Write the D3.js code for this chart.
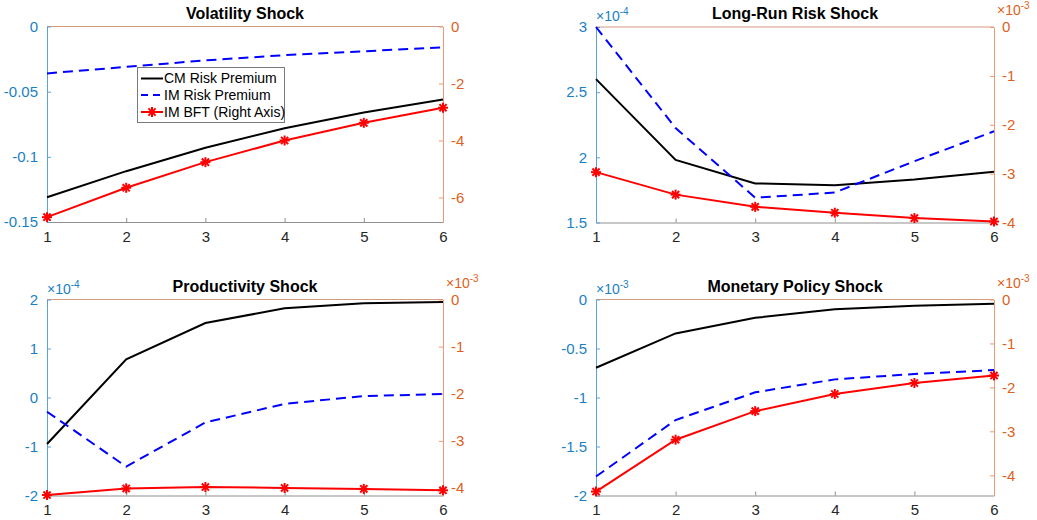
<!DOCTYPE html>
<html>
<head>
<meta charset="utf-8">
<script src="https://cdn.jsdelivr.net/npm/d3@7"></script>
<style>
  body { margin: 0; background: #fff; }
  svg { display: block; font-family: "Liberation Sans", Arial, sans-serif; }
</style>
</head>
<body>
<script>
// horizons on the x axis
const horizon = [1, 2, 3, 4, 5, 6];
const titles = ["Volatility Shock", "Long-Run Risk Shock", "Productivity Shock", "Monetary Policy Shock"];
const legendLabels = ["CM Risk Premium", "IM Risk Premium", "IM BFT (Right Axis)"];

// Volatility shock (left: raw, right: raw)
const volCM  = [-0.131, -0.111, -0.093, -0.078, -0.066, -0.056];
const volIM  = [-0.036, -0.031, -0.026, -0.022, -0.019, -0.016];
const volBFT = [-6.69, -5.66, -4.76, -4.00, -3.38, -2.85];

// Long-run risk shock (left x1e-4, right x1e-3)
const lrrCM  = [2.60, 1.98, 1.80, 1.785, 1.83, 1.89];
const lrrIM  = [3.00, 2.225, 1.69, 1.73, 1.97, 2.20];
const lrrBFT = [-2.97, -3.43, -3.68, -3.80, -3.91, -3.98];

// Productivity shock (left x1e-4, right x1e-3)
const prodCM  = [-0.95, 0.78, 1.52, 1.82, 1.925, 1.95];
const prodIM  = [-0.29, -1.41, -0.51, -0.13, 0.03, 0.07];
const prodBFT = [-4.15, -4.01, -3.98, -4.00, -4.02, -4.05];

// Monetary policy shock (left x1e-3, right x1e-3)
const monCM  = [-0.696, -0.346, -0.187, -0.10, -0.065, -0.044];
const monIM  = [-1.806, -1.23, -0.947, -0.815, -0.76, -0.72];
const monBFT = [-4.37, -3.19, -2.54, -2.15, -1.90, -1.73];

// axis limits / ticks
const leftDomains  = [[-0.15, 0], [1.5, 3], [-2, 2], [-2, 0]];
const rightDomains = [[-6.86, 0], [-4, 0], [-4.16, 0], [-4.46, 0]];
const leftTicks  = [[0, -0.05, -0.1, -0.15], [1.5, 2, 2.5, 3], [-2, -1, 0, 1, 2], [0, -0.5, -1, -1.5, -2]];
const leftTickLabels = [["0", "-0.05", "-0.1", "-0.15"], ["1.5", "2", "2.5", "3"], ["-2", "-1", "0", "1", "2"], ["0", "-0.5", "-1", "-1.5", "-2"]];
const rightTicks = [[0, -2, -4, -6], [0, -1, -2, -3, -4], [0, -1, -2, -3, -4], [0, -1, -2, -3, -4]];
const leftExp  = [null, "-4", "-4", "-3"];
const rightExp = [null, "-3", "-3", "-3"];

const cmSeries  = [volCM, lrrCM, prodCM, monCM];
const imSeries  = [volIM, lrrIM, prodIM, monIM];
const bftSeries = [volBFT, lrrBFT, prodBFT, monBFT];

const boxes = [
  {l: 47, r: 443, t: 26.5, b: 222},
  {l: 596, r: 994, t: 27, b: 222.5},
  {l: 47, r: 443, t: 299.5, b: 495.5},
  {l: 596, r: 994, t: 299.5, b: 495.5}
];

const W = 1037, H = 520;
const blueTxt = "#1a7fc4", blueLine = "#5aa3d9";
const orangeTxt = "#dd5f22", orangeLine = "#eb9a74";

const svg = d3.select("body").append("svg").attr("width", W).attr("height", H);

function asterisk(g, x, y) {
  const r = 5, d = r * 0.72;
  const segs = [[-r, 0, r, 0], [0, -r, 0, r], [-d, -d, d, d], [-d, d, d, -d]];
  segs.forEach(s => g.append("line")
    .attr("x1", x + s[0]).attr("y1", y + s[1]).attr("x2", x + s[2]).attr("y2", y + s[3])
    .attr("stroke", "#ff0000").attr("stroke-width", 2));
}

boxes.forEach((bx, i) => {
  const g = svg.append("g");
  const x = d3.scaleLinear().domain([1, 6]).range([bx.l, bx.r]);
  const yL = d3.scaleLinear().domain(leftDomains[i]).range([bx.b, bx.t]);
  const yR = d3.scaleLinear().domain(rightDomains[i]).range([bx.b, bx.t]);

  // top border
  g.append("line").attr("x1", bx.l).attr("x2", bx.r).attr("y1", bx.t).attr("y2", bx.t)
    .attr("stroke", "#d49a80").attr("stroke-width", 1);

  // x axis
  const xa = g.append("g").attr("transform", `translate(0,${bx.b})`)
    .call(d3.axisBottom(x).tickValues(horizon).tickFormat(d3.format("d")).tickSizeInner(-4).tickSizeOuter(0).tickPadding(9));
  xa.select(".domain").attr("stroke", "#8f8f8f");
  xa.selectAll(".tick line").attr("stroke", "#8f8f8f");
  xa.selectAll("text").attr("fill", "#262626").style("font-size", "15px");

  // left axis
  const la = g.append("g").attr("transform", `translate(${bx.l},0)`)
    .call(d3.axisLeft(yL).tickValues(leftTicks[i]).tickFormat((d, k) => leftTickLabels[i][k])
      .tickSizeInner(-4).tickSizeOuter(0).tickPadding(9));
  la.select(".domain").attr("stroke", blueLine);
  la.selectAll(".tick line").attr("stroke", blueLine);
  la.selectAll("text").attr("fill", blueTxt).style("font-size", "15px");

  // right axis
  const ra = g.append("g").attr("transform", `translate(${bx.r},0)`)
    .call(d3.axisRight(yR).tickValues(rightTicks[i]).tickFormat(d => d === 0 ? "0" : "-" + Math.abs(d))
      .tickSizeInner(-4).tickSizeOuter(0).tickPadding(8));
  ra.select(".domain").attr("stroke", orangeLine);
  ra.selectAll(".tick line").attr("stroke", orangeLine);
  ra.selectAll("text").attr("fill", orangeTxt).style("font-size", "15px");

  // exponent labels
  if (leftExp[i]) {
    const t = g.append("text").attr("x", bx.l).attr("y", bx.t - 6).attr("fill", blueTxt).style("font-size", "14px");
    t.append("tspan").text("\u00d710");
    t.append("tspan").attr("dy", -6).style("font-size", "10px").text(leftExp[i]);
  }
  if (rightExp[i]) {
    const t = g.append("text").attr("x", bx.r + 3).attr("y", bx.t - 12).attr("fill", orangeTxt).style("font-size", "14px");
    t.append("tspan").text("\u00d710");
    t.append("tspan").attr("dy", -6).style("font-size", "10px").text(rightExp[i]);
  }

  // title
  g.append("text").attr("x", (bx.l + bx.r) / 2).attr("y", bx.t - 8).attr("text-anchor", "middle")
    .style("font-size", "16px").style("font-weight", "bold").attr("fill", "#000").text(titles[i]);

  const lineL = d3.line().x((d, k) => x(horizon[k])).y(d => yL(d));
  const lineR = d3.line().x((d, k) => x(horizon[k])).y(d => yR(d));

  g.append("path").attr("d", lineL(cmSeries[i])).attr("fill", "none").attr("stroke", "#000").attr("stroke-width", 2);
  g.append("path").attr("d", lineL(imSeries[i])).attr("fill", "none").attr("stroke", "#0000ff")
    .attr("stroke-width", 2).attr("stroke-dasharray", "10,6");
  g.append("path").attr("d", lineR(bftSeries[i])).attr("fill", "none").attr("stroke", "#ff0000").attr("stroke-width", 2);
  bftSeries[i].forEach((v, k) => asterisk(g, x(horizon[k]), yR(v)));
});

// legend (first panel)
const lg = svg.append("g");
lg.append("rect").attr("x", 137.5).attr("y", 67.5).attr("width", 147).attr("height", 55)
  .attr("fill", "#fff").attr("stroke", "#7a7a7a").attr("stroke-width", 1);
const rowY = [78.5, 95, 112];
legendLabels.forEach((lab, k) => {
  const ln = lg.append("line").attr("x1", 141).attr("x2", 163).attr("y1", rowY[k]).attr("y2", rowY[k])
    .attr("stroke-width", 2);
  if (k === 0) ln.attr("stroke", "#000");
  if (k === 1) ln.attr("stroke", "#0000ff").attr("stroke-dasharray", "7,5");
  if (k === 2) { ln.attr("stroke", "#ff0000"); asterisk(lg, 152, rowY[k]); }
  lg.append("text").attr("x", 164).attr("y", rowY[k]).attr("dy", "0.35em")
    .style("font-size", "14px").attr("fill", "#000").text(lab);
});
</script>
</body>
</html>
